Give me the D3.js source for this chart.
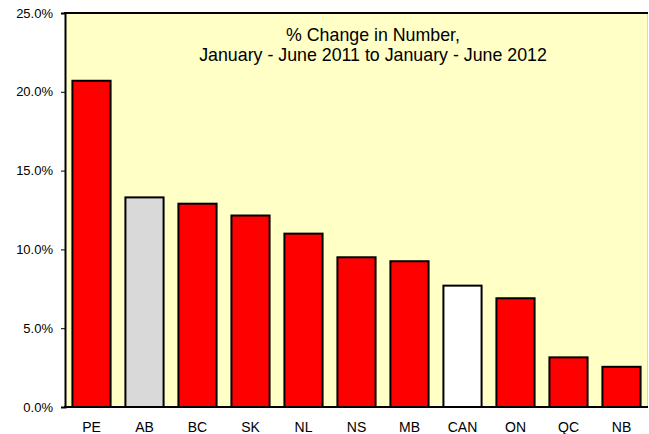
<!DOCTYPE html>
<html>
<head>
<meta charset="utf-8">
<script src="https://cdn.jsdelivr.net/npm/d3@7"></script>
<style>
  body { margin: 0; background: #fff; }
  svg { display: block; font-family: "Liberation Sans", Arial, sans-serif; }
</style>
</head>
<body>
<svg id="chart"></svg>
<script>
const w = 649;
const h = 434;

const provinces = ["PE", "AB", "BC", "SK", "NL", "NS", "MB", "CAN", "ON", "QC", "NB"];
const changes = [20.7, 13.3, 12.9, 12.15, 11.0, 9.5, 9.25, 7.7, 6.9, 3.15, 2.55];
const barColors = ["red", "#d9d9d9", "red", "red", "red", "red", "red", "white", "red", "red", "red"];
const yTicks = [0, 5, 10, 15, 20, 25];
const titleLines = ["% Change in Number,", "January - June 2011 to January - June 2012"];

const plotLeft = 65, plotRight = 648, plotTop = 13, plotBottom = 407;

const svg = d3.select("#chart").attr("width", w).attr("height", h);

const xScale = d3.scaleBand()
  .domain(provinces)
  .range([plotLeft, plotRight])
  .paddingInner(0.28)
  .paddingOuter(0.14);

const yScale = d3.scaleLinear()
  .domain([0, 25])
  .range([plotBottom, plotTop]);

// plot background
svg.append("rect")
  .attr("x", plotLeft).attr("y", plotTop)
  .attr("width", plotRight - plotLeft).attr("height", plotBottom - plotTop)
  .attr("fill", "#ffffc6");

svg.append("line")
  .attr("x1", plotRight - 0.5).attr("x2", plotRight - 0.5)
  .attr("y1", plotTop).attr("y2", plotBottom)
  .attr("stroke", "#d8d8c0").attr("stroke-width", 1);

// bars
svg.selectAll("rect.bar")
  .data(provinces)
  .enter()
  .append("rect")
  .attr("class", "bar")
  .attr("x", (d) => xScale(d))
  .attr("y", (d, i) => yScale(changes[i]))
  .attr("width", xScale.bandwidth())
  .attr("height", (d, i) => plotBottom - yScale(changes[i]))
  .attr("fill", (d, i) => barColors[i])
  .attr("stroke", "#000")
  .attr("stroke-width", 2);

// title
svg.append("text")
  .attr("x", 373).attr("y", 41)
  .attr("text-anchor", "middle")
  .attr("font-size", 17.8)
  .selectAll("tspan")
  .data(titleLines)
  .enter()
  .append("tspan")
  .attr("x", 373)
  .attr("dy", (d, i) => i === 0 ? 0 : 20)
  .text((d) => d);

// axes
const yAxis = d3.axisLeft(yScale)
  .tickValues(yTicks)
  .tickSize(4)
  .tickFormat((d) => d.toFixed(1) + "%");

const xAxis = d3.axisBottom(xScale).tickSize(0).tickPadding(15);

const gy = svg.append("g")
  .attr("transform", "translate(" + plotLeft + ",0)")
  .call(yAxis)
  .attr("font-size", 13)
  .attr("font-family", "Liberation Sans, Arial, sans-serif");
gy.select(".domain").attr("stroke-width", 2);
gy.selectAll(".tick text").attr("fill", "#000").attr("x", -12);

const gx = svg.append("g")
  .attr("transform", "translate(0," + plotBottom + ")")
  .call(xAxis)
  .attr("font-size", 14)
  .attr("font-family", "Liberation Sans, Arial, sans-serif");
gx.select(".domain").remove();
gx.selectAll(".tick text").attr("fill", "#000");

svg.append("line")
  .attr("x1", plotLeft - 1).attr("x2", plotRight)
  .attr("y1", plotBottom).attr("y2", plotBottom)
  .attr("stroke", "#000").attr("stroke-width", 2);

svg.append("line")
  .attr("x1", plotLeft - 1).attr("x2", plotRight)
  .attr("y1", plotTop).attr("y2", plotTop)
  .attr("stroke", "#000").attr("stroke-width", 2);
</script>
</body>
</html>
